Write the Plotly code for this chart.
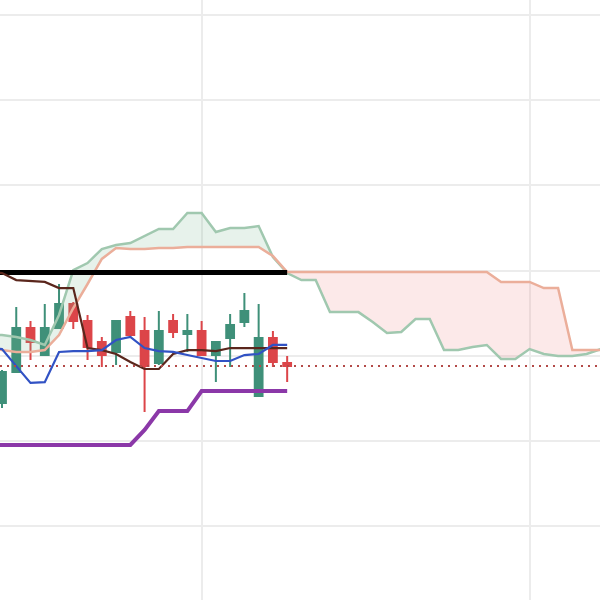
import numpy as np
import plotly.graph_objects as go

# ---- data ----
candle_x = list(range(0, 21))
candle_open = [87.22, 89.04, 91.62, 90.04, 91.62, 93.03, 92.04, 90.80, 90.22, 92.27, 91.45,
               89.57, 92.04, 91.27, 91.45, 90.04, 91.04, 91.98, 87.63, 91.04, 89.57]
candle_high = [89.16, 92.86, 92.04, 93.03, 94.21, 93.15, 92.39, 91.10, 92.10, 92.62, 92.27,
               92.62, 92.45, 92.45, 92.04, 90.86, 92.45, 93.68, 93.03, 91.45, 89.98]
candle_low = [86.93, 88.98, 89.75, 89.98, 91.57, 91.57, 89.75, 89.34, 89.45, 91.10, 86.69,
              89.45, 91.04, 90.22, 89.98, 88.45, 89.34, 91.68, 87.60, 89.34, 88.45]
candle_close = [89.04, 91.62, 90.80, 91.62, 93.03, 92.04, 90.51, 90.04, 92.04, 91.21, 89.39,
                91.45, 91.39, 91.45, 90.04, 90.80, 91.80, 92.62, 91.04, 89.63, 89.39]

line_x = list(range(-1, 21))
tenkan = [90.45, 90.39, 89.39, 88.40, 88.45, 90.22, 90.27, 90.27, 90.33, 90.92, 91.10,
          90.45, 90.27, 90.22, 90.04, 89.86, 89.69, 89.69, 90.04, 90.10, 90.63, 90.63]
kijun = [94.97, 94.85, 94.44, 94.38, 94.33, 93.97, 93.97, 90.45, 90.33, 90.10, 89.63,
         89.22, 89.22, 90.10, 90.33, 90.33, 90.27, 90.45, 90.45, 90.45, 90.45, 90.45]
lower_band = [84.76, 84.76, 84.76, 84.76, 84.76, 84.76, 84.76, 84.76, 84.76, 84.76, 84.76,
              85.64, 86.75, 86.75, 86.75, 87.93, 87.93, 87.93, 87.93, 87.93, 87.93, 87.93]
resistance_level = 94.88

senkou_x = list(range(-1, 44))
senkou_a = [91.21, 91.21, 91.10, 90.92, 90.63, 92.39, 95.03, 95.44, 96.26, 96.50, 96.61,
            97.03, 97.44, 97.44, 98.38, 98.38, 97.26, 97.50, 97.50, 97.61, 95.79, 94.85,
            94.44, 94.44, 92.56, 92.56, 92.56, 91.98, 91.33, 91.39, 92.15, 92.15, 90.33,
            90.33, 90.51, 90.63, 89.81, 89.81, 90.39, 90.10, 89.98, 89.98, 90.10, 90.39, 90.63]
senkou_b = [90.45, 90.33, 90.22, 90.22, 90.33, 91.21, 92.80, 94.21, 95.68, 96.32, 96.26,
            96.26, 96.32, 96.32, 96.38, 96.38, 96.38, 96.38, 96.38, 96.38, 95.85, 94.91,
            94.91, 94.91, 94.91, 94.91, 94.91, 94.91, 94.91, 94.91, 94.91, 94.91, 94.91,
            94.91, 94.91, 94.91, 94.33, 94.33, 94.33, 93.97, 93.97, 90.33, 90.33, 90.33, 90.33]

# ---- figure ----
fig = go.Figure()
upper = np.maximum(np.array(senkou_a), np.array(senkou_b))

# green cloud (A above B)
fig.add_trace(go.Scatter(x=senkou_x, y=senkou_b, mode="lines", line=dict(width=0),
                         hoverinfo="skip", showlegend=False))
fig.add_trace(go.Scatter(x=senkou_x, y=upper, mode="lines", line=dict(width=0),
                         fill="tonexty", fillcolor="rgba(120,185,145,0.18)",
                         hoverinfo="skip", showlegend=False))
# red cloud (B above A)
fig.add_trace(go.Scatter(x=senkou_x, y=senkou_a, mode="lines", line=dict(width=0),
                         hoverinfo="skip", showlegend=False))
fig.add_trace(go.Scatter(x=senkou_x, y=upper, mode="lines", line=dict(width=0),
                         fill="tonexty", fillcolor="rgba(235,120,120,0.16)",
                         hoverinfo="skip", showlegend=False))

fig.add_trace(go.Scatter(x=senkou_x, y=senkou_a, mode="lines",
                         line=dict(color="#a0c8af", width=2.5), name="Senkou A"))
fig.add_trace(go.Scatter(x=senkou_x, y=senkou_b, mode="lines",
                         line=dict(color="#ebae9a", width=2.5), name="Senkou B"))

fig.add_trace(go.Scatter(x=[line_x[0], line_x[-1]], y=[resistance_level, resistance_level],
                         mode="lines", line=dict(color="#000000", width=5), name="Level"))
fig.add_trace(go.Scatter(x=line_x, y=lower_band, mode="lines",
                         line=dict(color="#8b38a8", width=4), name="Low"))
fig.add_trace(go.Scatter(x=line_x, y=kijun, mode="lines",
                         line=dict(color="#5a261c", width=2.2), name="Kijun"))
fig.add_trace(go.Scatter(x=line_x, y=tenkan, mode="lines",
                         line=dict(color="#3152c4", width=2.2), name="Tenkan"))

fig.add_hline(y=candle_close[-1], line=dict(color="#b34a48", width=2, dash="2px,5px"))

fig.add_trace(go.Candlestick(
    x=candle_x, open=candle_open, high=candle_high, low=candle_low, close=candle_close,
    increasing=dict(line=dict(color="#3f9079", width=2), fillcolor="#3f9079"),
    decreasing=dict(line=dict(color="#dc4549", width=2), fillcolor="#dc4549"),
    name="Price"))

fig.update_layout(
    width=600, height=600, margin=dict(l=0, r=0, t=0, b=0),
    paper_bgcolor="white", plot_bgcolor="white", showlegend=False,
    boxgap=0.22,
)
fig.update_xaxes(range=[-0.14, 41.94], tick0=14, dtick=23, showticklabels=False,
                 showgrid=True, gridcolor="#ececec", gridwidth=2, zeroline=False,
                 rangeslider=dict(visible=False))
fig.update_yaxes(range=[75.66, 110.88], tick0=80, dtick=5, showticklabels=False,
                 showgrid=True, gridcolor="#ececec", gridwidth=2, zeroline=False)

fig.write_html("out.html", config={"displayModeBar": False},
               post_script="document.body.style.margin='0';document.body.style.overflow='hidden';")
